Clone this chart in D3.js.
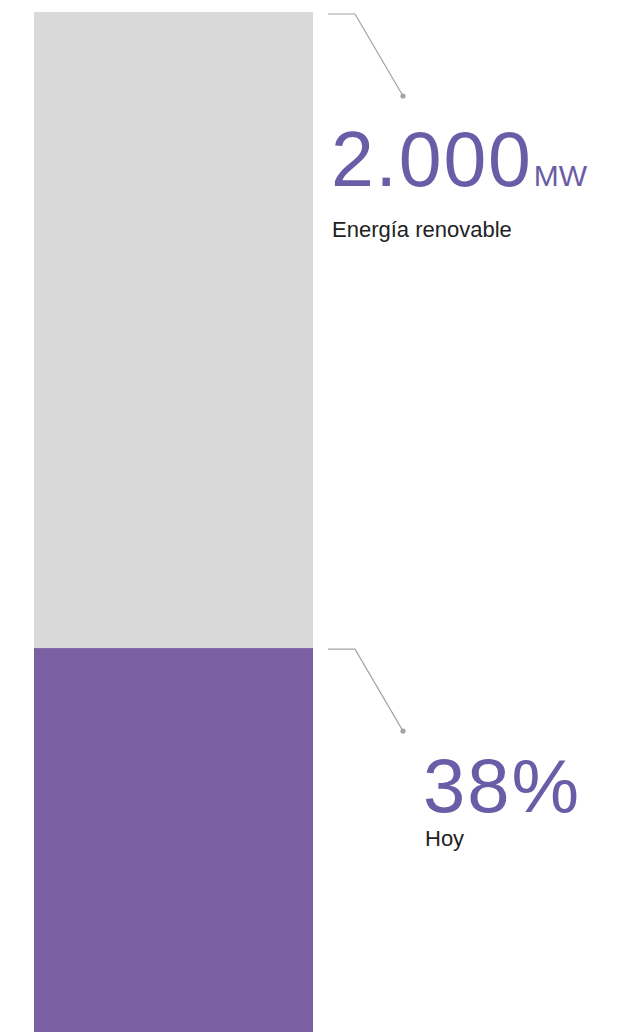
<!DOCTYPE html>
<html><head><meta charset="utf-8">
<script src="https://cdn.jsdelivr.net/npm/d3@7"></script>
<style>body{margin:0;background:#fff;}svg{display:block;}</style>
</head><body>
<script>
const categories = ["Energía renovable", "Hoy"];
const values = [100, 38];
const valueLabels = ["2.000", "38%"];
const unitLabels = ["MW", ""];

const W = 620, H = 1032;
const svg = d3.select("body").append("svg").attr("width", W).attr("height", H);

const y = d3.scaleLinear().domain([0, 100]).range([1038, 12]);
const x = d3.scaleBand().domain(["bar"]).range([34, 313]).padding(0);

const colors = ["#d9d9d9", "#7b5fa3"];
svg.selectAll("rect.bar").data(values).join("rect")
  .attr("class", "bar")
  .attr("x", x("bar")).attr("width", x.bandwidth())
  .attr("y", d => y(d)).attr("height", d => y(0) - y(d))
  .attr("fill", (d, i) => colors[i]);

const font = "'Liberation Sans', Arial, sans-serif";
const textPurple = "#6b5ca7";
const lineCol = "#a3a3a3";

values.forEach((v, i) => {
  const ty = y(v) + (i === 0 ? 2 : 1);
  const g = svg.append("g");
  g.append("path")
    .attr("d", `M328,${ty}L355,${ty}L403,${ty + 82}`)
    .attr("fill", "none").attr("stroke", lineCol).attr("stroke-width", 1.2);
  g.append("circle").attr("cx", 403).attr("cy", ty + 82).attr("r", 2.6).attr("fill", lineCol);
});

// Top annotation
const t1 = svg.append("text").attr("x", 331).attr("y", 186)
  .attr("font-family", font).attr("fill", textPurple);
t1.append("tspan").attr("font-size", 77).attr("letter-spacing", 1.8).text(valueLabels[0]);
t1.append("tspan").attr("font-size", 30).attr("dx", 1).text(unitLabels[0]);
svg.append("text").attr("x", 332).attr("y", 237)
  .attr("font-family", font).attr("font-size", 22)
  .attr("fill", "#222").text(categories[0]);

// Bottom annotation
svg.append("text").attr("x", 423).attr("y", 812)
  .attr("font-family", font).attr("font-size", 76).attr("letter-spacing", 2)
  .attr("fill", textPurple).text(valueLabels[1]);
svg.append("text").attr("x", 425).attr("y", 846)
  .attr("font-family", font).attr("font-size", 22)
  .attr("fill", "#222").text(categories[1]);
</script>
</body></html>
